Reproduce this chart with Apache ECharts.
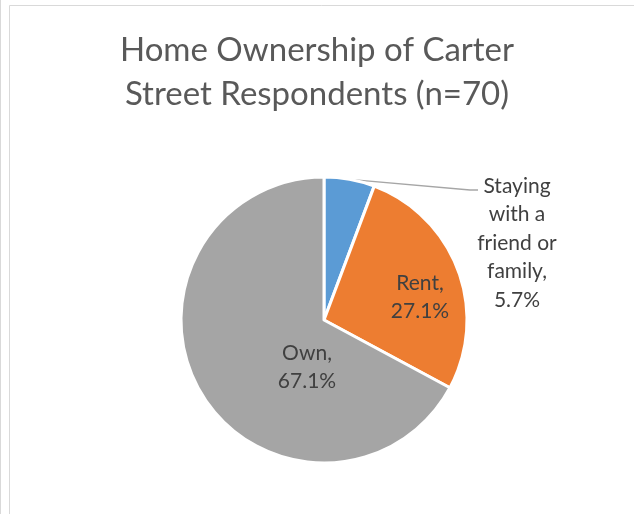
<!DOCTYPE html>
<html>
<head>
<meta charset="utf-8">
<script src="https://cdn.jsdelivr.net/npm/echarts@6/dist/echarts.min.js"></script>
<style>
  html, body { margin: 0; padding: 0; background: #fff; }
  #chart { width: 634px; height: 514px; }
</style>
</head>
<body>
<div id="chart"></div>
<script>
// 数据
var titleLines = ['Home Ownership of Carter', 'Street Respondents (n=70)'];
var categories = ['Staying\nwith a\nfriend or\nfamily', 'Rent', 'Own'];
var counts = [4, 19, 47];
var colors = ['#5B9BD5', '#ED7D31', '#A5A5A5'];

var total = counts.reduce(function (a, b) { return a + b; }, 0);

var chart = echarts.init(document.getElementById('chart'), null, { renderer: 'canvas' });

var option = {
  backgroundColor: '#fff',
  animation: false,
  title: {
    text: titleLines.join('\n'),
    left: 'center',
    top: 24,
    textStyle: {
      fontFamily: 'Lato',
      fontWeight: 'normal',
      fontSize: 33,
      lineHeight: 43.5,
      color: '#595959'
    }
  },
  // 图表外框
  graphic: [
    { type: 'line', shape: { x1: 0.5, y1: 0, x2: 0.5, y2: 514 }, style: { stroke: '#d9d9d9', lineWidth: 1 } },
    { type: 'line', shape: { x1: 9.5, y1: 5.5, x2: 9.5, y2: 514 }, style: { stroke: '#d9d9d9', lineWidth: 1 } },
    { type: 'line', shape: { x1: 9.5, y1: 5.5, x2: 634, y2: 5.5 }, style: { stroke: '#d9d9d9', lineWidth: 1 } }
  ],
  series: [
    {
      type: 'pie',
      center: [324, 320],
      radius: 143,
      startAngle: 90,
      clockwise: true,
      itemStyle: { borderColor: '#fff', borderWidth: 3 },
      label: {
        show: true,
        position: 'inside',
        fontFamily: 'Lato',
        fontSize: 21,
        lineHeight: 28.5,
        color: '#404040',
        formatter: function (p) {
          return p.name + ',\n' + (p.value / total * 100).toFixed(1) + '%';
        }
      },
      labelLine: { show: false },
      // 标签位置微调
      labelLayout: function (p) {
        if (p.dataIndex === 0) {
          var start = p.labelLinePoints ? p.labelLinePoints[0] : [350, 177];
          return {
            x: 517, y: 243, align: 'center', verticalAlign: 'middle',
            labelLinePoints: [start, [470, 190], [478, 190]]
          };
        }
        if (p.dataIndex === 1) return { x: 420, y: 297, align: 'center', verticalAlign: 'middle' };
        return { x: 307, y: 367, align: 'center', verticalAlign: 'middle' };
      },
      data: categories.map(function (name, i) {
        var item = { name: name, value: counts[i], itemStyle: { color: colors[i] } };
        if (i === 0) {
          item.label = { position: 'outside' };
          item.labelLine = { show: true, length: 10, length2: 10, lineStyle: { color: '#a6a6a6', width: 1.3 } };
        }
        return item;
      })
    }
  ]
};

chart.setOption(option);
</script>
</body>
</html>
